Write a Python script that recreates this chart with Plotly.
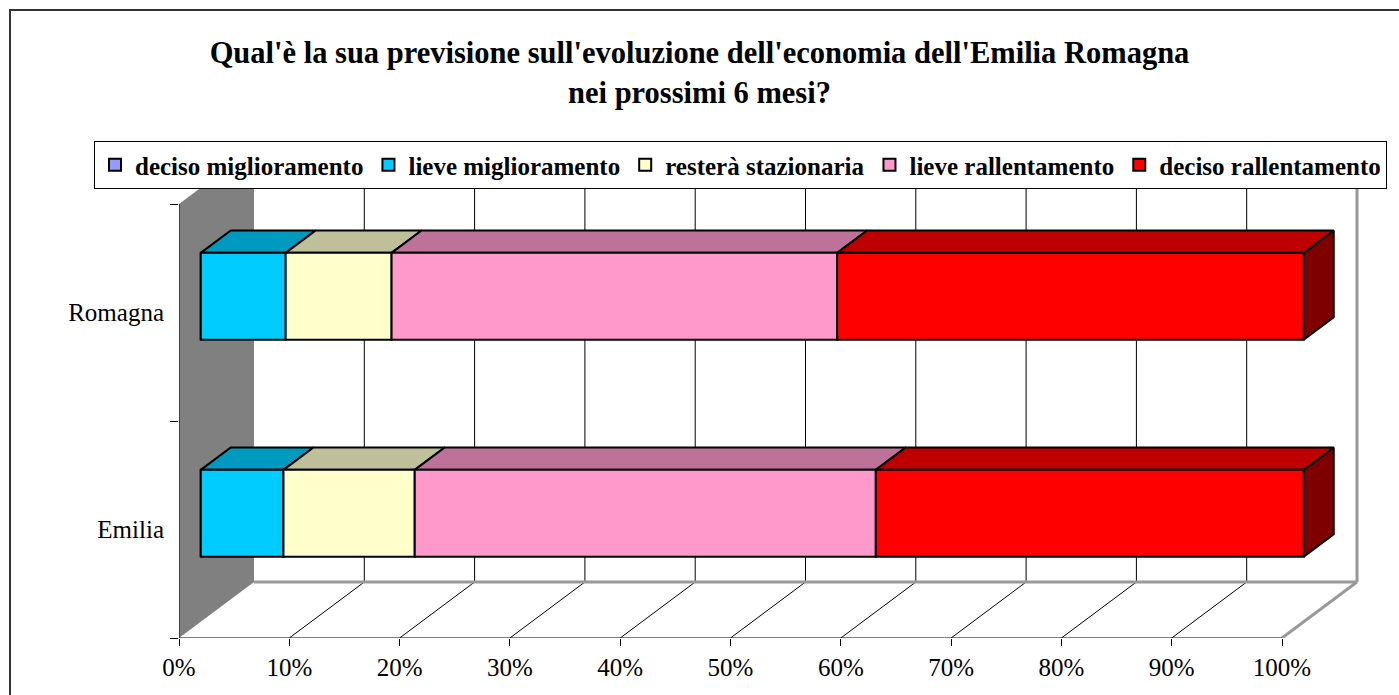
import plotly.graph_objects as go

# ---- data -------------------------------------------------------------
categories = ["Emilia", "Romagna"]
series_names = [
    "deciso miglioramento",
    "lieve miglioramento",
    "resterà stazionaria",
    "lieve rallentamento",
    "deciso rallentamento",
]
deciso_miglioramento = [0.0, 0.0]
lieve_miglioramento = [7.5, 7.7]
restera_stazionaria = [11.9, 9.6]
lieve_rallentamento = [41.8, 40.4]
deciso_rallentamento = [38.8, 42.3]
series_values = [
    deciso_miglioramento,
    lieve_miglioramento,
    restera_stazionaria,
    lieve_rallentamento,
    deciso_rallentamento,
]
front_colors = ["#9999FF", "#00CCFF", "#FFFFCC", "#FF99CC", "#FF0000"]
x_tick_values = list(range(0, 101, 10))
x_tick_labels = [f"{v}%" for v in x_tick_values]

TITLE = ("Qual'è la sua previsione sull'evoluzione dell'economia dell'Emilia Romagna"
         "<br>nei prossimi 6 mesi?")
FONT = "Liberation Serif"

# ---- geometry of the oblique 3-D box ---------------------------------
W, H = 1399, 695
PX_PER_PCT = 11.03          # horizontal scale of the front plane
PX_PER_CAT = 217            # vertical size of one category band
AX_LEFT_PX, AX_BOTTOM_PX = 179, 638
DEPTH_X = 75 / PX_PER_PCT   # full floor depth, in axis units
DEPTH_Y = 56 / PX_PER_CAT
BAR_FRONT, BAR_BACK = 0.29, 0.69   # depth fractions of the bar faces
BAR_HALF = 0.2
X_MAX = 108
Y_MIN, Y_MAX = -0.5, 1.5 + DEPTH_Y


def shade(hex_color, k):
    r, g, b = (int(hex_color[i:i + 2], 16) for i in (1, 3, 5))
    return "#{:02X}{:02X}{:02X}".format(int(r * k), int(g * k), int(b * k))


positions = list(range(len(categories)))
starts = []
acc = [0.0] * len(categories)
for vals in series_values:
    starts.append(list(acc))
    acc = [a + v for a, v in zip(acc, vals)]

fig = go.Figure()

# right-hand sides and tops of each bar segment
side_traces, top_traces = [], []
for vals, st, col in zip(series_values, starts, front_colors):
    sx, sy, tx, ty = [], [], [], []
    for j, (v, s) in enumerate(zip(vals, st)):
        if v <= 0:
            continue
        e = s + v
        yf_top = positions[j] + BAR_FRONT * DEPTH_Y + BAR_HALF
        yb_top = positions[j] + BAR_BACK * DEPTH_Y + BAR_HALF
        yf_bot = positions[j] + BAR_FRONT * DEPTH_Y - BAR_HALF
        yb_bot = positions[j] + BAR_BACK * DEPTH_Y - BAR_HALF
        xf_s, xb_s = s + BAR_FRONT * DEPTH_X, s + BAR_BACK * DEPTH_X
        xf_e, xb_e = e + BAR_FRONT * DEPTH_X, e + BAR_BACK * DEPTH_X
        tx += [xf_s, xb_s, xb_e, xf_e, xf_s, None]
        ty += [yf_top, yb_top, yb_top, yf_top, yf_top, None]
        sx += [xf_e, xb_e, xb_e, xf_e, xf_e, None]
        sy += [yf_top, yb_top, yb_bot, yf_bot, yf_top, None]
    side_traces.append(go.Scatter(x=sx, y=sy, mode="lines", fill="toself",
                                  fillcolor=shade(col, 0.5),
                                  line=dict(color="black", width=2),
                                  showlegend=False, hoverinfo="skip", zorder=0))
    top_traces.append(go.Scatter(x=tx, y=ty, mode="lines", fill="toself",
                                 fillcolor=shade(col, 0.75),
                                 line=dict(color="black", width=2),
                                 showlegend=False, hoverinfo="skip", zorder=0))
for t in side_traces + top_traces:
    fig.add_trace(t)

# front faces
for name, vals, st, col in zip(series_names, series_values, starts, front_colors):
    fig.add_trace(go.Bar(
        name=name,
        orientation="h",
        x=vals,
        base=[s + BAR_FRONT * DEPTH_X for s in st],
        y=[p + BAR_FRONT * DEPTH_Y for p in positions],
        width=2 * BAR_HALF,
        marker=dict(color=col, line=dict(color="black", width=2)),
        zorder=1,
    ))

# walls, floor and grid
shapes = []
wall_path = "M {0},{1} L {2},{3} L {2},{4} L {0},{5} Z".format(
    0, Y_MIN, DEPTH_X, Y_MIN + DEPTH_Y, 1.5 + DEPTH_Y, 1.5)
shapes.append(dict(type="path", path=wall_path, xref="x", yref="y",
                   fillcolor="#808080", line=dict(width=0), layer="below"))
for v in x_tick_values[1:-1]:
    shapes.append(dict(type="line", xref="x", yref="y", layer="below",
                       x0=v + DEPTH_X, x1=v + DEPTH_X,
                       y0=Y_MIN + DEPTH_Y, y1=1.5 + DEPTH_Y,
                       line=dict(color="black", width=1)))
    shapes.append(dict(type="line", xref="x", yref="y", layer="below",
                       x0=v, x1=v + DEPTH_X, y0=Y_MIN, y1=Y_MIN + DEPTH_Y,
                       line=dict(color="black", width=1)))
edge = dict(color="#999999", width=3)
shapes += [
    dict(type="line", xref="x", yref="y", layer="below",
         x0=DEPTH_X, x1=100 + DEPTH_X, y0=Y_MIN + DEPTH_Y, y1=Y_MIN + DEPTH_Y, line=edge),
    dict(type="line", xref="x", yref="y", layer="below",
         x0=100 + DEPTH_X, x1=100 + DEPTH_X, y0=Y_MIN + DEPTH_Y, y1=1.5 + DEPTH_Y, line=edge),
    dict(type="line", xref="x", yref="y", layer="below",
         x0=100, x1=100 + DEPTH_X, y0=Y_MIN, y1=Y_MIN + DEPTH_Y, line=edge),
    dict(type="line", xref="x", yref="y", layer="below",
         x0=0, x1=100, y0=Y_MIN, y1=Y_MIN, line=dict(color="black", width=1)),
    dict(type="line", xref="x", yref="y", layer="below",
         x0=0, x1=0, y0=Y_MIN, y1=1.5, line=dict(color="black", width=1)),
    # chart frame
    dict(type="rect", xref="paper", yref="paper",
         x0=10 / W, x1=1.02, y0=-0.05, y1=1 - 10 / H,
         line=dict(color="#333333", width=2)),
]

fig.update_layout(
    width=W, height=H, autosize=False,
    margin=dict(l=0, r=0, t=0, b=0, autoexpand=False),
    paper_bgcolor="white", plot_bgcolor="white",
    barmode="overlay",
    font=dict(family=FONT, color="black", size=25),
    title=dict(text=TITLE, x=0.5, xanchor="center", y=1 - 63 / H, yanchor="top",
               font=dict(family=FONT, size=30.5, color="black", weight="bold")),
    legend=dict(orientation="h", x=94 / W, xanchor="left", y=1 - 141 / H, yanchor="top",
                bgcolor="white", bordercolor="black", borderwidth=1,
                font=dict(family=FONT, size=25, color="black", weight="bold"),
                traceorder="normal"),
    shapes=shapes,
    xaxis=dict(domain=[AX_LEFT_PX / W, (AX_LEFT_PX + X_MAX * PX_PER_PCT) / W],
               range=[0, X_MAX], showgrid=False, zeroline=False, showline=False,
               tickmode="array", tickvals=x_tick_values, ticktext=x_tick_labels,
               ticks="outside", ticklen=7, tickcolor="black", tickwidth=1,
               tickfont=dict(family=FONT, size=25, color="black"), fixedrange=True),
    yaxis=dict(domain=[(H - AX_BOTTOM_PX) / H,
                       (H - AX_BOTTOM_PX + (Y_MAX - Y_MIN) * PX_PER_CAT) / H],
               range=[Y_MIN, Y_MAX], showgrid=False, zeroline=False, showline=False,
               tickmode="array", tickvals=positions, ticktext=categories,
               ticks="", ticklabelstandoff=14,
               minor=dict(tickmode="array", tickvals=[-0.5, 0.5, 1.5], ticks="outside",
                          ticklen=8, tickcolor="black", tickwidth=1, showgrid=False),
               tickfont=dict(family=FONT, size=25, color="black"), fixedrange=True),
)

fig.write_html("out.html")
